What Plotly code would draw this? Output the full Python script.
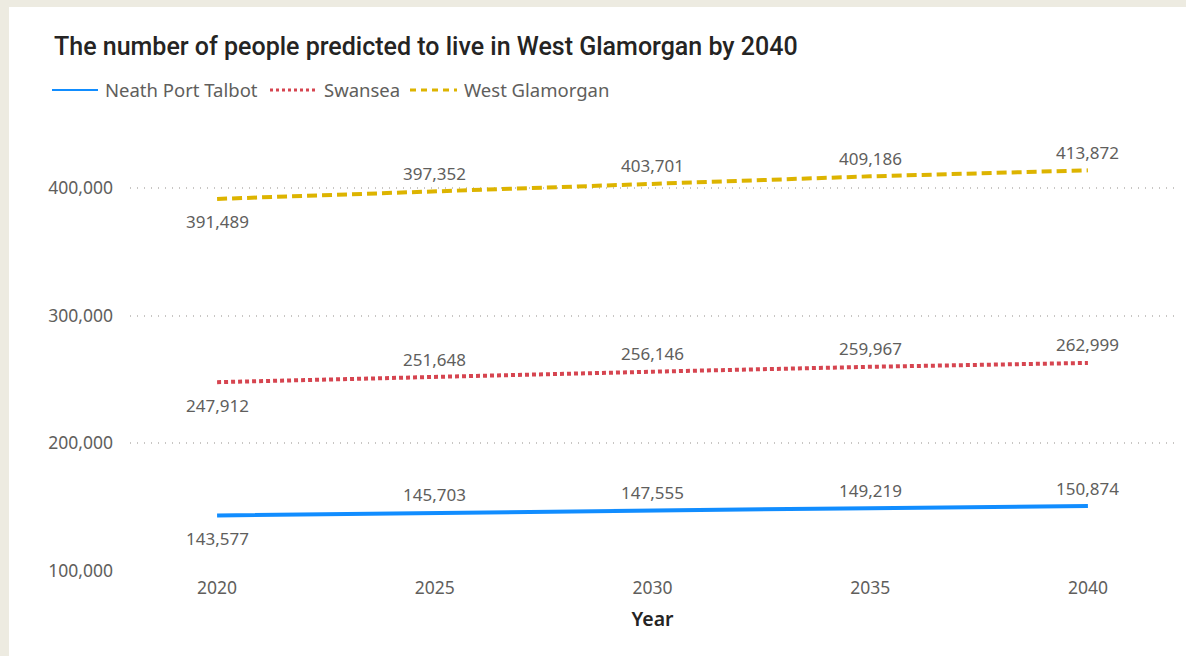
import plotly.graph_objects as go

years = [2020, 2025, 2030, 2035, 2040]
neath_port_talbot = [143577, 145703, 147555, 149219, 150874]
swansea = [247912, 251648, 256146, 259967, 262999]
west_glamorgan = [391489, 397352, 403701, 409186, 413872]
series_names = ["Neath Port Talbot", "Swansea", "West Glamorgan"]
y_ticks = [100000, 200000, 300000, 400000]

W, H = 1186, 656
L, R, T, B = 130, 11, 137, 85
pw, ph = W - L - R, H - T - B


def px(x):
    return (x - L) / pw


def py(y):
    return (H - B - y) / ph


colors = ["#118DFF", "#D64550", "#DDB400"]
dashes = ["solid", "4px,3px", "10px,5px"]
values = [neath_port_talbot, swansea, west_glamorgan]

fig = go.Figure()
for name, vals, c, d in zip(series_names, values, colors, dashes):
    fig.add_trace(go.Scatter(x=years, y=vals, name=name, mode="lines",
                             line=dict(color=c, width=4, dash=d),
                             showlegend=False, hoverinfo="skip"))
    for i, (x, v) in enumerate(zip(years, vals)):
        fig.add_annotation(x=x, y=v, xref="x", yref="y", text=f"{v:,}",
                           showarrow=False, yanchor="middle",
                           yshift=-23 if i == 0 else 18,
                           font=dict(family="Noto Sans", size=17, color="#605E5C"))

shapes = [
    dict(type="rect", xref="paper", yref="paper", x0=px(9), x1=px(W + 5),
         y0=py(H + 5), y1=py(7), fillcolor="white", line=dict(width=0), layer="below"),
]
# manual legend
leg_y = py(90)
leg_items = [(52, 98, 103, "solid", 2), (270, 318, 322, "dot", 3), (410, 457, 462, "6px,5px", 3)]
for (x0, x1, tx, d, w), name, c in zip(leg_items, series_names, colors):
    shapes.append(dict(type="line", xref="paper", yref="paper", x0=px(x0), x1=px(x1),
                       y0=leg_y, y1=leg_y, line=dict(color=c, width=w, dash=d)))
    fig.add_annotation(x=px(tx), y=leg_y, xref="paper", yref="paper", text=name,
                       showarrow=False, xanchor="left", yanchor="middle",
                       font=dict(family="Noto Sans", size=18.5, color="#605E5C"))

fig.add_annotation(x=px(52), y=py(47), xref="paper", yref="paper",
                   text="The number of people predicted to live in West Glamorgan by 2040",
                   showarrow=False, xanchor="left", yanchor="middle",
                   font=dict(family="Roboto", size=25, color="#252423", weight=500))

fig.update_layout(
    width=W, height=H,
    margin=dict(l=L, r=R, t=T, b=B),
    paper_bgcolor="#EDEBE1",
    plot_bgcolor="white",
    shapes=shapes,
    font=dict(family="Noto Sans", color="#605E5C", size=17),
)
fig.update_xaxes(range=[2018, 2042], tickvals=years, showgrid=False, zeroline=False,
                 showline=False, ticks="", ticklabelstandoff=4,
                 tickfont=dict(size=17.5, color="#605E5C"),
                 title=dict(text="Year", standoff=14,
                            font=dict(family="Noto Sans", size=19.5, color="#252423", weight=600)))
fig.update_yaxes(range=[100000, 440000], tickvals=y_ticks, tickformat=",",
                 showgrid=True, gridcolor="#C8C6C4", griddash="1px,6px", gridwidth=1.5,
                 zeroline=False, showline=False, ticks="", ticklabelstandoff=16,
                 tickfont=dict(size=17.5, color="#605E5C"))

fig.write_html("out.html", config={"displayModeBar": False})
with open("out.html", encoding="utf-8") as f:
    html = f.read()
html = html.replace("<head>", "<head><style>html,body{margin:0;padding:0;}</style>", 1)
with open("out.html", "w", encoding="utf-8") as f:
    f.write(html)
